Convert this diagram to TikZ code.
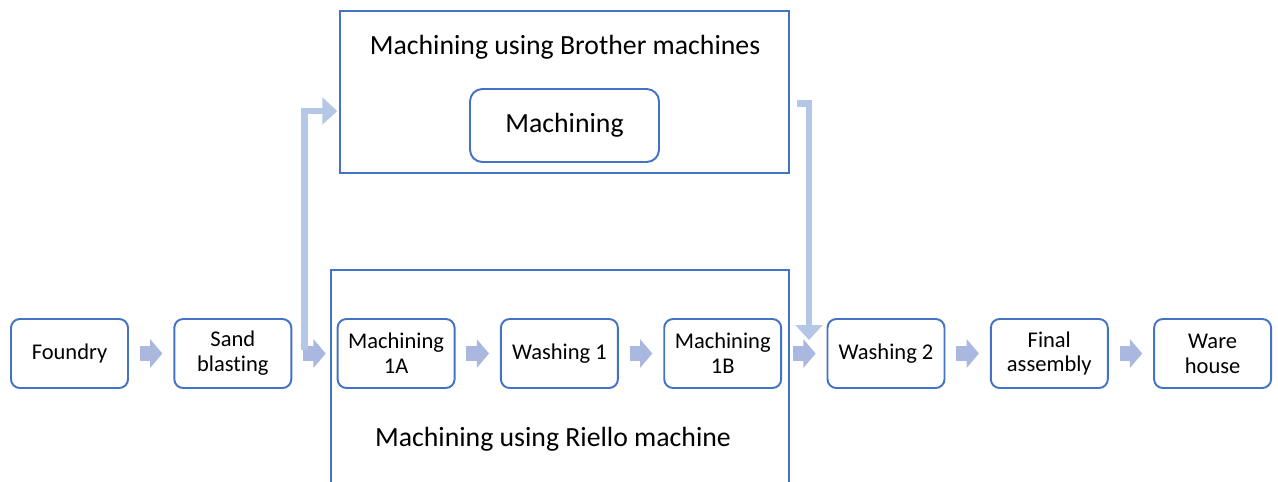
\documentclass[tikz,border=0pt]{standalone}
\usepackage{fontspec}
\setmainfont{Carlito}[Ligatures={NoCommon,NoDiscretionary,NoRare}]
\usetikzlibrary{arrows.meta}

\definecolor{boxblue}{HTML}{4472C4}
\definecolor{flowblue}{HTML}{AAB8E0}
\definecolor{feedblue}{HTML}{B4C7E7}

\tikzset{
  stage/.style={draw=boxblue, line width=1.1pt, rounded corners=5pt,
    minimum width=2.34cm, minimum height=1.38cm, align=center,
    font=\fontsize{12.8}{14.2}\selectfont},
  frame/.style={draw=boxblue, line width=1.1pt},
  title/.style={font=\fontsize{15.8}{18}\selectfont},
  flow/.style={draw=flowblue, line width=8pt,
    -{Triangle[width=16pt,length=7pt]}, shorten <=6.2pt, shorten >=6.2pt},
  feed/.style={draw=feedblue, line width=3.8pt,
    -{Triangle[width=15pt,length=8.5pt]}},
}

\begin{document}
\begin{tikzpicture}[x=0.02cm,y=-0.02cm]
  \useasboundingbox (0,0) rectangle (1278,481);
  \clip (0,0) rectangle (1278,481);

  % machine groups
  \node[frame, minimum width=8.98cm, minimum height=3.24cm] (brother) at (564.5,92) {};
  \node[title] (brothertitle) at (565,47) {Machining using Brother machines};
  \node[stage, rounded corners=7pt, minimum width=3.78cm, minimum height=1.46cm,
    font=\fontsize{15.8}{18}\selectfont] (mach) at (564.5,125.5) {Machining};

  \node[frame, minimum width=9.16cm, minimum height=6cm] (riello) at (560,420) {};
  \node[title] (riellotitle) at (553,439) {Machining using Riello machine};

  % main line
  \foreach \name/\txt [count=\i from 0] in {foundry/Foundry, sand/Sand\\blasting,
      mia/Machining\\1A, wasi/Washing 1, mib/Machining\\1B, wasii/Washing 2,
      final/Final\\assembly, ware/Ware\\house} {%
    \node[stage] (\name) at (69.5 + 163.3*\i,353.5) {\txt};
  }

  \foreach \a/\b in {foundry/sand, sand/mia, mia/wasi, wasi/mib,
      mib/wasii, wasii/final, final/ware} {%
    \draw[flow] (\a) -- (\b);
  }

  % by-pass through the Brother machines
  \coordinate (split) at (304.5,350);
  \coordinate (join) at (809,340);
  \draw[feed] (split) |- ([xshift=-1pt]brother.west |- 0,111);
  \draw[feed] ([xshift=4pt]brother.east |- 0,103.5) -| (join);
\end{tikzpicture}
\end{document}
